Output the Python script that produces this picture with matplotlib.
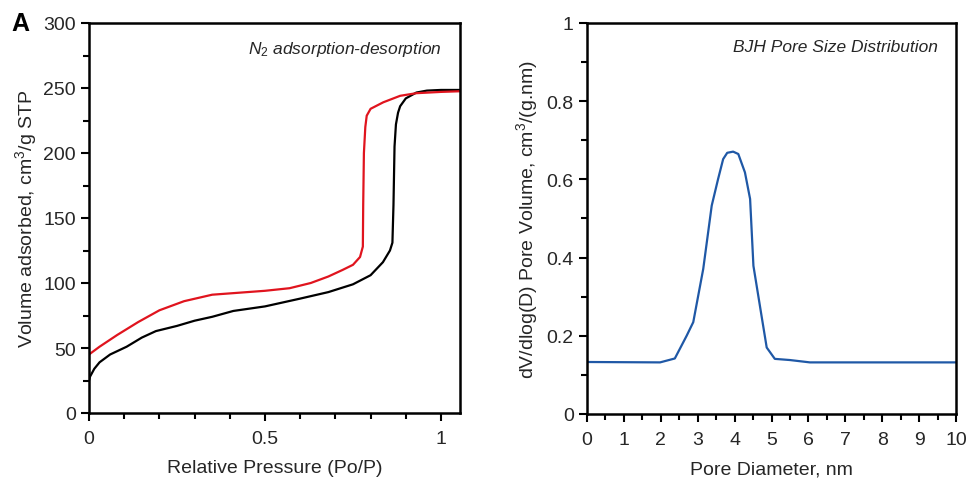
import matplotlib
matplotlib.use("Agg")
import matplotlib.pyplot as plt
from matplotlib.ticker import MultipleLocator

plt.rcParams['font.family'] = ['Liberation Sans', 'DejaVu Sans']
plt.rcParams['mathtext.fontset'] = 'custom'
plt.rcParams['mathtext.it'] = 'Liberation Sans:italic'
plt.rcParams['mathtext.rm'] = 'Liberation Sans'
TXT = '#262626'

# N2 adsorption branch (relative pressure, volume cm3/g STP)
ads_p = [0.0, 0.003, 0.015, 0.03, 0.06, 0.107, 0.15, 0.19, 0.25, 0.3, 0.35, 0.41, 0.5, 0.6, 0.68,
         0.75, 0.8, 0.835, 0.855, 0.862, 0.865, 0.868, 0.872, 0.878, 0.884, 0.9, 0.93, 0.96, 1.0, 1.054]
ads_v = [25, 28, 34, 39, 45, 51, 58, 63, 67, 71, 74, 78.5, 82, 88, 93,
         99, 106, 116, 125, 131, 160, 205, 222, 231, 236, 242, 246.5, 248, 248.5, 248.5]

# N2 desorption branch
des_p = [0.0, 0.03, 0.08, 0.14, 0.2, 0.27, 0.35, 0.45, 0.5, 0.57, 0.63, 0.68, 0.72,
         0.75, 0.77, 0.778, 0.779, 0.781, 0.785, 0.789, 0.8, 0.836, 0.884, 0.93, 1.0, 1.054]
des_v = [45, 51, 60, 70, 79, 86, 91, 93, 94, 96, 100, 105, 110,
         114, 120, 128, 160, 200, 220, 228.7, 234, 239, 244, 246, 247, 247.5]

# BJH pore size distribution (nm, cm3/(g.nm))
pore_d = [0.0, 1.98, 2.38, 2.7, 2.88, 3.15, 3.38, 3.55, 3.69, 3.8, 3.96, 4.1, 4.28, 4.42,
          4.51, 4.73, 4.87, 5.09, 5.5, 6.04, 10.0]
pore_v = [0.133, 0.132, 0.142, 0.2, 0.235, 0.371, 0.533, 0.6, 0.652, 0.668, 0.671, 0.665,
          0.618, 0.55, 0.379, 0.251, 0.17, 0.141, 0.138, 0.132, 0.132]

fig = plt.figure(figsize=(9.71, 4.81), dpi=100)
W, H = 971, 481
ax1 = fig.add_axes([89 / W, 1 - 414 / H, (460 - 89) / W, (414 - 24) / H])
ax2 = fig.add_axes([587 / W, 1 - 415 / H, (956 - 587) / W, (415 - 24) / H])

ax1.plot(ads_p, ads_v, color='black', lw=1.6)
ax1.plot(des_p, des_v, color='#e0141e', lw=1.6)
ax1.set_xlim(0, 1.054)
ax1.set_ylim(0, 300)
ax1.xaxis.set_major_locator(MultipleLocator(0.5))
ax1.xaxis.set_minor_locator(MultipleLocator(0.1))
ax1.yaxis.set_major_locator(MultipleLocator(50))
ax1.yaxis.set_minor_locator(MultipleLocator(25))
ax1.xaxis.set_major_formatter(plt.FuncFormatter(lambda v, p: f"{v:g}"))
ax1.set_xlabel('Relative Pressure (Po/P)', fontsize=14, labelpad=9, color=TXT)
ax1.set_ylabel('Volume adsorbed, cm$^3$/g STP', fontsize=14, labelpad=3, color=TXT)
ax1.text(0.95, 0.96, r'$N_2$ adsorption-desorption', transform=ax1.transAxes,
         ha='right', va='top', fontsize=12.5, style='italic', color=TXT)

ax2.plot(pore_d, pore_v, color='#1f58a6', lw=1.6)
ax2.set_xlim(0, 10)
ax2.set_ylim(0, 1)
ax2.xaxis.set_major_locator(MultipleLocator(1))
ax2.xaxis.set_minor_locator(MultipleLocator(0.5))
ax2.yaxis.set_major_locator(MultipleLocator(0.2))
ax2.yaxis.set_minor_locator(MultipleLocator(0.1))
ax2.yaxis.set_major_formatter(plt.FuncFormatter(lambda v, p: f"{v:g}"))
ax2.set_xlabel('Pore Diameter, nm', fontsize=14, labelpad=9, color=TXT)
ax2.set_ylabel('dV/dlog(D) Pore Volume, cm$^3$/(g.nm)', fontsize=14, labelpad=5, color=TXT)
ax2.text(0.95, 0.96, 'BJH Pore Size Distribution', transform=ax2.transAxes,
         ha='right', va='top', fontsize=12.5, style='italic', color=TXT)

for ax in (ax1, ax2):
    for s in ax.spines.values():
        s.set_linewidth(1.8)
    ax.tick_params(which='both', direction='out', width=1.5, top=False, right=False,
                   labelsize=14, labelcolor=TXT)
    ax.tick_params(which='major', length=6)
    ax.tick_params(which='minor', length=4)
    ax.tick_params(axis='x', pad=6)

fig.text(11 / W, 1 - 24 / H, 'A', fontsize=18, fontweight='bold', ha='left', va='center')

fig.savefig('out.png', dpi=100)
